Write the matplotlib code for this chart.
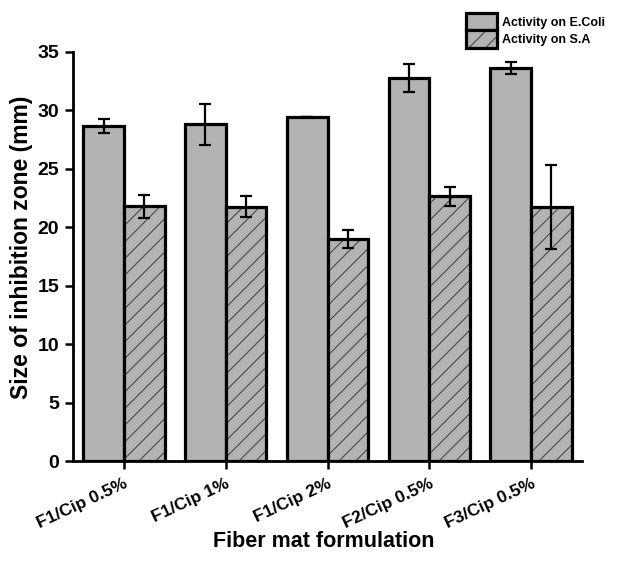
import matplotlib
matplotlib.use("Agg")
import matplotlib.pyplot as plt
import numpy as np
from matplotlib.patches import Patch
from matplotlib.legend_handler import HandlerTuple

categories = ["F1/Cip 0.5%", "F1/Cip 1%", "F1/Cip 2%", "F2/Cip 0.5%", "F3/Cip 0.5%"]
ecoli = [28.7, 28.8, 29.45, 32.8, 33.65]
ecoli_err = [0.6, 1.75, 0.0, 1.2, 0.5]
sa = [21.8, 21.75, 19.0, 22.65, 21.7]
sa_err = [1.0, 0.9, 0.75, 0.8, 3.6]
yticks = [0, 5, 10, 15, 20, 25, 30, 35]

plt.rcParams['font.family'] = ['Liberation Sans', 'DejaVu Sans']
plt.rcParams['font.weight'] = 'bold'
plt.rcParams['hatch.linewidth'] = 0.8

fig = plt.figure(figsize=(6.17, 5.73), dpi=100)
ax = fig.add_axes([73/617, 1-461/573, (582-73)/617, (461-52)/573])

x = np.arange(len(categories))
w = 0.4
gray = '#b3b3b3'
# E.coli bars
ax.bar(x - w/2, ecoli, w, color=gray, edgecolor='black', linewidth=2.3, zorder=2)
# S.A bars: hatch layer then border layer
ax.bar(x + w/2, sa, w, color=gray, edgecolor='#4a4a4a', hatch='//', linewidth=0, zorder=2)
ax.bar(x + w/2, sa, w, color='none', edgecolor='black', linewidth=2.3, zorder=3)

ax.errorbar(x - w/2, ecoli, yerr=ecoli_err, fmt='none', ecolor='black',
            elinewidth=1.6, capsize=4, capthick=1.6, zorder=4)
ax.errorbar(x + w/2, sa, yerr=sa_err, fmt='none', ecolor='black',
            elinewidth=1.6, capsize=4, capthick=1.6, zorder=4)

ax.set_xlim(-0.5, 4.5)
ax.set_ylim(0, 35)
ax.set_yticks(yticks)
ax.set_xticks(x)
ax.set_xticklabels(categories, rotation=25, ha='right', rotation_mode='anchor',
                   fontsize=12.5, fontweight='bold')
ax.tick_params(axis='y', labelsize=14, width=1.8, length=6, direction='out', pad=4)
ax.tick_params(axis='x', width=1.8, length=6, direction='out', pad=5)
for lab in ax.get_yticklabels():
    lab.set_fontweight('bold')
for s in ['top', 'right']:
    ax.spines[s].set_visible(False)
for s in ['left', 'bottom']:
    ax.spines[s].set_linewidth(2.0)

ax.set_ylabel("Size of inhibition zone (mm)", fontsize=16.5, fontweight='bold')
ax.yaxis.set_label_coords(-0.078, 0.522)
ax.set_xlabel("Fiber mat formulation", fontsize=15.5, fontweight='bold')
ax.xaxis.set_label_coords(0.492, -0.17)

h1 = Patch(facecolor=gray, edgecolor='black', linewidth=2.3)
h2a = Patch(facecolor=gray, edgecolor='#4a4a4a', hatch='//', linewidth=0)
h2b = Patch(facecolor='none', edgecolor='black', linewidth=2.3)
fig.legend([h1, (h2a, h2b)], ["Activity on E.Coli", "Activity on S.A"],
           handler_map={tuple: HandlerTuple(ndivide=1, pad=0)},
           loc='upper left', bbox_to_anchor=(466/617, 1-13/573),
           frameon=False, handlelength=2.5, handleheight=1.75,
           labelspacing=0.0, handletextpad=0.35, borderpad=0, borderaxespad=0,
           prop={'weight': 'bold', 'size': 9})

fig.savefig("out.png", dpi=100)
